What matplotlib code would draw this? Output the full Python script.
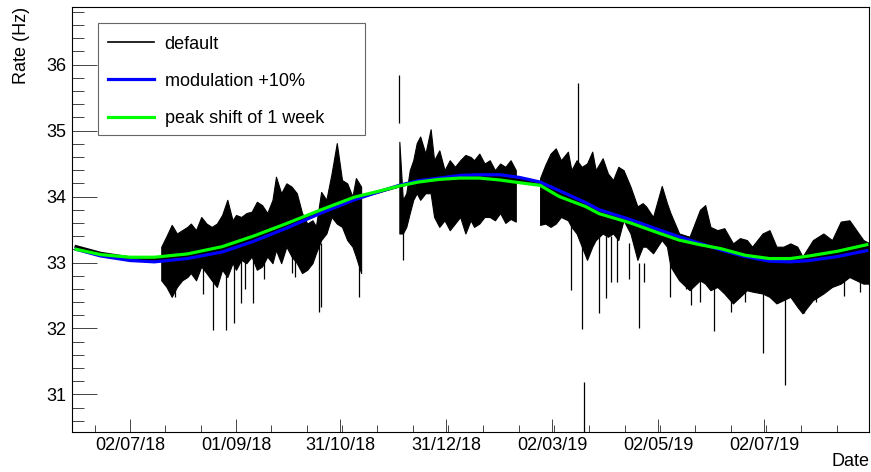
import matplotlib
matplotlib.use("Agg")
import matplotlib.pyplot as plt
from matplotlib.ticker import AutoMinorLocator, MultipleLocator
from matplotlib.patches import Rectangle
import numpy as np
import pandas as pd

plt.rcParams['font.family'] = ['Liberation Sans', 'DejaVu Sans']

# measured rate, read as upper / lower edge of the noisy band
data_dates = ['2018-07-20', '2018-07-23', '2018-07-26', '2018-07-29', '2018-08-01', '2018-08-04',
              '2018-08-06', '2018-08-09', '2018-08-12', '2018-08-15', '2018-08-18', '2018-08-21',
              '2018-08-24', '2018-08-27', '2018-08-30', '2018-09-01', '2018-09-04', '2018-09-07',
              '2018-09-10', '2018-09-13', '2018-09-16', '2018-09-19', '2018-09-22', '2018-09-24',
              '2018-09-27', '2018-09-30', '2018-10-03', '2018-10-06', '2018-10-09', '2018-10-12',
              '2018-10-15', '2018-10-17', '2018-10-20', '2018-10-23', '2018-10-26', '2018-10-29',
              '2018-11-01', '2018-11-04', '2018-11-07', '2018-11-09', '2018-11-12',
              '2018-12-04', '2018-12-06', '2018-12-08', '2018-12-10', '2018-12-12', '2018-12-14',
              '2018-12-16', '2018-12-19', '2018-12-22', '2018-12-24', '2018-12-27', '2018-12-30',
              '2019-01-02', '2019-01-05', '2019-01-08', '2019-01-11', '2019-01-14', '2019-01-16',
              '2019-01-19', '2019-01-22', '2019-01-25', '2019-01-28', '2019-01-31', '2019-02-03',
              '2019-02-06', '2019-02-09',
              '2019-02-23', '2019-02-26', '2019-03-01', '2019-03-04', '2019-03-07', '2019-03-11',
              '2019-03-13', '2019-03-16', '2019-03-19', '2019-03-22', '2019-03-25', '2019-03-27',
              '2019-03-31', '2019-04-03', '2019-04-06', '2019-04-09', '2019-04-12', '2019-04-16',
              '2019-04-20', '2019-04-23', '2019-04-25', '2019-04-29', '2019-05-04', '2019-05-07',
              '2019-05-09', '2019-05-14', '2019-05-20', '2019-05-26', '2019-05-29', '2019-06-01',
              '2019-06-05', '2019-06-09', '2019-06-14', '2019-06-18', '2019-06-22', '2019-06-25',
              '2019-07-01', '2019-07-05', '2019-07-09', '2019-07-13', '2019-07-17', '2019-07-21',
              '2019-07-24', '2019-07-30', '2019-08-05', '2019-08-10', '2019-08-15', '2019-08-20',
              '2019-08-24', '2019-08-28', '2019-08-31']
data_hi = [33.24, 33.40, 33.57, 33.44, 33.49, 33.54, 33.59, 33.49, 33.69, 33.59, 33.54, 33.59,
           33.72, 33.95, 33.64, 33.72, 33.69, 33.75, 33.77, 33.92, 33.87, 33.75, 33.95, 34.30,
           34.05, 34.20, 34.15, 34.05, 33.75, 33.59, 33.64, 33.55, 34.07, 33.95, 34.35, 34.81,
           34.25, 34.20, 34.00, 34.28, 34.15,
           34.83, 33.95, 34.05, 34.40, 34.55, 34.81, 34.91, 34.65, 35.02, 34.55, 34.70, 34.40,
           34.55, 34.45, 34.55, 34.63, 34.60, 34.55, 34.65, 34.50, 34.55, 34.40, 34.50, 34.45,
           34.55, 34.40,
           34.28, 34.48, 34.65, 34.73, 34.55, 34.68, 34.40, 34.55, 34.45, 34.50, 34.68, 34.40,
           34.58, 34.35, 34.25, 34.45, 34.40, 34.15, 33.85, 33.90, 33.85, 33.69, 34.16, 33.90,
           33.75, 33.44, 33.39, 33.80, 33.87, 33.54, 33.49, 33.52, 33.29, 33.37, 33.34, 33.24,
           33.44, 33.49, 33.24, 33.24, 33.29, 33.24, 33.09, 33.34, 33.44, 33.34, 33.62, 33.64,
           33.49, 33.34, 33.30]
data_lo = [32.73, 32.63, 32.48, 32.63, 32.73, 32.78, 32.84, 32.73, 32.94, 32.84, 32.73, 32.63,
           32.89, 32.78, 32.99, 32.89, 33.04, 32.99, 33.09, 32.89, 32.94, 33.09, 32.99, 33.19,
           32.99, 33.24, 33.09, 32.99, 32.84, 32.89, 32.99, 33.14, 33.34, 33.44, 33.69, 33.59,
           33.54, 33.34, 33.24, 33.09, 32.84,
           33.44, 33.44, 33.54, 33.75, 33.95, 34.05, 33.95, 34.05, 34.05, 33.69, 33.54, 33.64,
           33.49, 33.59, 33.69, 33.44, 33.64, 33.54, 33.59, 33.69, 33.69, 33.64, 33.75, 33.60,
           33.66, 33.62,
           33.57, 33.59, 33.54, 33.59, 33.69, 33.64, 33.54, 33.44, 33.24, 33.04, 33.24, 33.34,
           33.44, 33.39, 33.44, 33.34, 33.64, 33.44, 33.04, 33.24, 33.24, 33.14, 33.34, 33.24,
           32.94, 32.73, 32.58, 32.73, 32.68, 32.58, 32.63, 32.53, 32.38, 32.48, 32.58, 32.56,
           32.53, 32.48, 32.38, 32.43, 32.48, 32.33, 32.23, 32.43, 32.53, 32.63, 32.68, 32.78,
           32.73, 32.68, 32.68]

# single spikes
spike_dates = ['2018-07-28', '2018-08-13', '2018-08-19', '2018-08-26', '2018-08-31', '2018-09-04',
               '2018-09-06', '2018-09-11', '2018-09-17', '2018-10-03', '2018-10-05', '2018-10-19',
               '2018-10-20', '2018-11-11',
               '2018-12-06', '2019-03-13', '2019-03-19', '2019-03-29',
               '2019-04-02', '2019-04-05', '2019-04-08', '2019-04-15', '2019-04-21', '2019-04-24',
               '2019-05-09', '2019-05-18', '2019-05-21', '2019-05-26',
               '2019-06-03', '2019-06-13', '2019-06-21', '2019-07-01', '2019-07-14', '2019-07-25',
               '2019-08-01', '2019-08-17', '2019-08-26',
               '2018-12-04', '2019-03-17', '2019-03-20']
spike_lo = [32.48, 32.53, 31.98, 31.98, 32.08, 32.38,
            32.60, 32.38, 32.75, 32.84, 32.78, 32.25,
            32.33, 32.48,
            33.04, 32.58, 31.99, 32.23,
            32.46, 32.70, 32.71, 32.75, 32.00, 32.71,
            32.48, 32.60, 32.36, 32.40,
            31.96, 32.25, 32.40, 31.63, 31.15, 32.23,
            32.40, 32.50, 32.55,
            35.11, 33.80, 30.00]
spike_hi = [33.0, 33.0, 33.0, 33.0, 33.0, 33.1,
            33.1, 33.1, 33.1, 33.2, 33.2, 33.3,
            33.3, 33.3,
            33.5, 33.6, 33.3, 33.4,
            33.4, 33.4, 33.4, 33.3, 33.0, 33.0,
            33.0, 32.9, 32.8, 32.8,
            32.8, 32.6, 32.7, 32.6, 32.6, 32.5,
            32.7, 32.8, 32.8,
            35.84, 35.72, 31.19]

# fitted curves
fit_dates = ['2018-06-01', '2018-06-15', '2018-07-02', '2018-07-16', '2018-08-04', '2018-08-24',
             '2018-09-11', '2018-09-30', '2018-10-20', '2018-11-08', '2018-11-22', '2018-12-04',
             '2018-12-15', '2018-12-27', '2019-01-08', '2019-01-19', '2019-01-31', '2019-02-11',
             '2019-02-23', '2019-03-06', '2019-03-21', '2019-03-29', '2019-04-16', '2019-05-03',
             '2019-05-14', '2019-05-26', '2019-06-07', '2019-06-21', '2019-07-05', '2019-07-17',
             '2019-07-28', '2019-08-13', '2019-08-30']
fit_mod = [33.20, 33.10, 33.03, 33.01, 33.06, 33.16, 33.32, 33.52, 33.75, 33.95, 34.07, 34.17,
           34.24, 34.28, 34.32, 34.33, 34.33, 34.29, 34.22, 34.09, 33.91, 33.80, 33.65, 33.49,
           33.39, 33.29, 33.19, 33.09, 33.02, 33.01, 33.03, 33.09, 33.18]
fit_shift = [33.20, 33.12, 33.08, 33.08, 33.13, 33.24, 33.40, 33.59, 33.80, 33.99, 34.08, 34.16,
             34.22, 34.26, 34.28, 34.28, 34.25, 34.21, 34.17, 34.00, 33.85, 33.74, 33.60, 33.44,
             33.34, 33.27, 33.21, 33.11, 33.06, 33.06, 33.10, 33.17, 33.27]
fit_default = [33.24, 33.14, 33.07, 33.05, 33.09, 33.20, 33.36, 33.55, 33.77, 33.97, 34.07, 34.16,
               34.23, 34.27, 34.30, 34.31, 34.29, 34.25, 34.19, 34.05, 33.88, 33.77, 33.62, 33.46,
               33.36, 33.28, 33.20, 33.10, 33.04, 33.03, 33.06, 33.13, 33.22]

tick_dates = ['2018-07-02', '2018-09-01', '2018-10-31', '2018-12-31', '2019-03-02', '2019-05-02', '2019-07-02']
tick_labels = ['02/07/18', '01/09/18', '31/10/18', '31/12/18', '02/03/19', '02/05/19', '02/07/19']

fig = plt.figure(figsize=(8.71, 4.72), dpi=100)
ax = fig.add_axes([0.083, 0.0854, 0.915, 0.899])

d = pd.to_datetime(data_dates)
hi = np.array(data_hi)
lo = np.array(data_lo)
# split the band where there is no data for more than 10 days
breaks = np.where(np.diff(d.values).astype('timedelta64[D]').astype(int) > 10)[0] + 1
for idx in np.split(np.arange(len(d)), breaks):
    ax.fill_between(d[idx], lo[idx], hi[idx], color='black', lw=0.8)
ax.vlines(pd.to_datetime(spike_dates), spike_lo, spike_hi, color='black', lw=0.9)

fd = pd.to_datetime(fit_dates)
ax.plot(fd, fit_default, color='black', lw=2.3)
ax.plot(fd, fit_mod, color='#0000ff', lw=2.3)
ax.plot(fd, fit_shift, color='#00ff00', lw=2.3)

ax.set_xlim(pd.Timestamp('2018-05-29 19:00'), pd.Timestamp('2019-08-31 10:00'))
ax.set_ylim(30.436, 36.867)

ax.set_xticks(pd.to_datetime(tick_dates))
ax.set_xticklabels(tick_labels)
ax.xaxis.set_minor_locator(AutoMinorLocator(3))
ax.yaxis.set_major_locator(MultipleLocator(1))
ax.yaxis.set_minor_locator(MultipleLocator(0.2))
ax.tick_params(axis='both', which='both', direction='in', color='#444444', width=0.7,
               labelsize=13, top=False, right=False)
ax.tick_params(axis='y', which='major', length=18, pad=4)
ax.tick_params(axis='y', which='minor', length=8.6)
ax.tick_params(axis='x', which='major', length=9.4, pad=4)
ax.tick_params(axis='x', which='minor', length=5)
for s in ax.spines.values():
    s.set_linewidth(0.8)

ax.set_ylabel('Rate (Hz)', fontsize=13, loc='top')
ax.yaxis.set_label_coords(-0.053, 1.0)
ax.set_xlabel('Date', fontsize=13, loc='right')
ax.xaxis.set_label_coords(1.0, -0.071)
ax.xaxis.label.set_va('center')

# legend box drawn by hand (fixed size like the original)
ax.add_patch(Rectangle((0.0322, 0.699), 0.3351, 0.264, transform=ax.transAxes,
                       facecolor='white', edgecolor='#666666', lw=0.8, zorder=4))
h1, = ax.plot([], [], color='black', lw=1.2)
h2, = ax.plot([], [], color='#0000ff', lw=2.3)
h3, = ax.plot([], [], color='#00ff00', lw=2.3)
leg = ax.legend([h1, h2, h3], ['default', 'modulation +10%', 'peak shift of 1 week'],
                loc='upper left', bbox_to_anchor=(0.032, 0.957), borderaxespad=0,
                fontsize=13, handlelength=2.55, handletextpad=0.6, labelspacing=1.12,
                borderpad=0.55, frameon=False)
leg.set_zorder(5)

fig.savefig('out.png', dpi=100)
plt.close(fig)
